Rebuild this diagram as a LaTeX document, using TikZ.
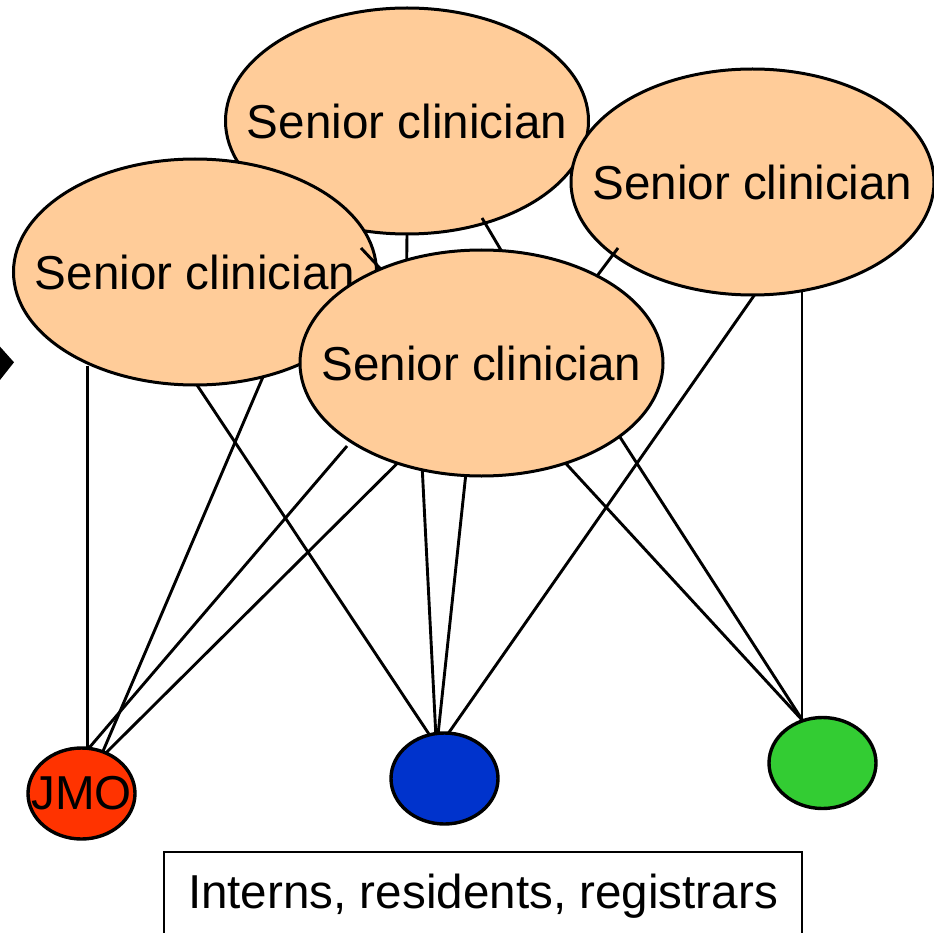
\documentclass[tikz,border=0pt]{standalone}
\usepackage{fontspec}
\setmainfont{Liberation Sans}
\usetikzlibrary{shapes.geometric}
\pgfdeclarelayer{back}
\pgfdeclarelayer{mid}
\pgfsetlayers{back,mid,main}
\definecolor{peach}{HTML}{FFCC99}
\definecolor{jmored}{HTML}{FF3300}
\definecolor{blueb}{HTML}{0033CC}
\definecolor{greenb}{HTML}{33CC33}
\newcommand\bigtxt{\fontsize{47.6}{57}\selectfont}
\begin{document}
\begin{tikzpicture}[x=1pt,y=-1pt,
  senior/.style={ellipse, draw, line width=3pt, fill=peach, minimum width=363pt, minimum height=226pt, inner sep=0pt, outer sep=0pt, label={[font=\bigtxt,inner sep=0pt]center:Senior clinician}},
  junior/.style={ellipse, draw, line width=3.4pt, minimum width=107pt, minimum height=91pt, inner sep=0pt, outer sep=0pt},
  link/.style={line width=2.9pt},
  namebox/.style={draw, line width=2.6pt, minimum width=638pt, minimum height=88pt, inner sep=0pt, font=\bigtxt}]
\useasboundingbox (0,0) rectangle (934,933);

% partial arrow tip at left edge
\fill (-5,341.1) -- (14,362.3) -- (-5,386.3) -- cycle;

\begin{pgfonlayer}{back}
\node[senior] (e1) at (407,121) {};
\node[senior] (e2) at (752.5,182) {};
\node[senior] (e3) at (195,272) {};
\end{pgfonlayer}

\node[senior] (e4) at (481.5,363) {};

\coordinate (s1) at (361,248);
\coordinate (s3) at (482,218);
\coordinate (s4) at (618,248);
\begin{pgfonlayer}{mid}
\draw[link] (s1) -- (e4.137.5);
\draw[link] (e1.-90) -- (e4.126);
\draw[link] (s3) -- (e4.80.1);
\draw[link] (s4) -- (e4.37.4);
\end{pgfonlayer}

\node[junior, fill=jmored, label={[font=\bigtxt,inner sep=0pt]center:JMO}] (jmo) at (81.5,793.5) {};
\node[junior, fill=blueb] (blue) at (444.5,778.5) {};
\node[junior, fill=greenb] (green) at (822.5,763) {};

\node[namebox] (box) at (483,896) {Interns, residents, registrars};

% connectors to JMO
\draw[link] (jmo.82) -- (jmo.82 |- e3.-137.8);
\draw[link] (e3.-57.3) -- (jmo.63.2);
\draw[link, shorten <=6pt] (e4.-149) -- (jmo.81.9);
\draw[link] (e4.-130.2) -- (jmo.59.8);
% connectors to blue
\draw[link] (e3.-89) -- (blue.109.9);
\draw[link] (e4.-119.9) -- (blue.101.8);
\draw[link] (e4.-98.8) -- (blue.98.1);
\draw[link] (e2.-89.2) -- (blue.85.6);
% connectors to green
\draw[link] (green.116.6) -- (green.116.6 |- e2.-66.8);
\draw[link] (e4.-50.5) -- (green.115.5);
\draw[link] (e4.-28.4) -- (green.115.5);
\end{tikzpicture}
\end{document}
